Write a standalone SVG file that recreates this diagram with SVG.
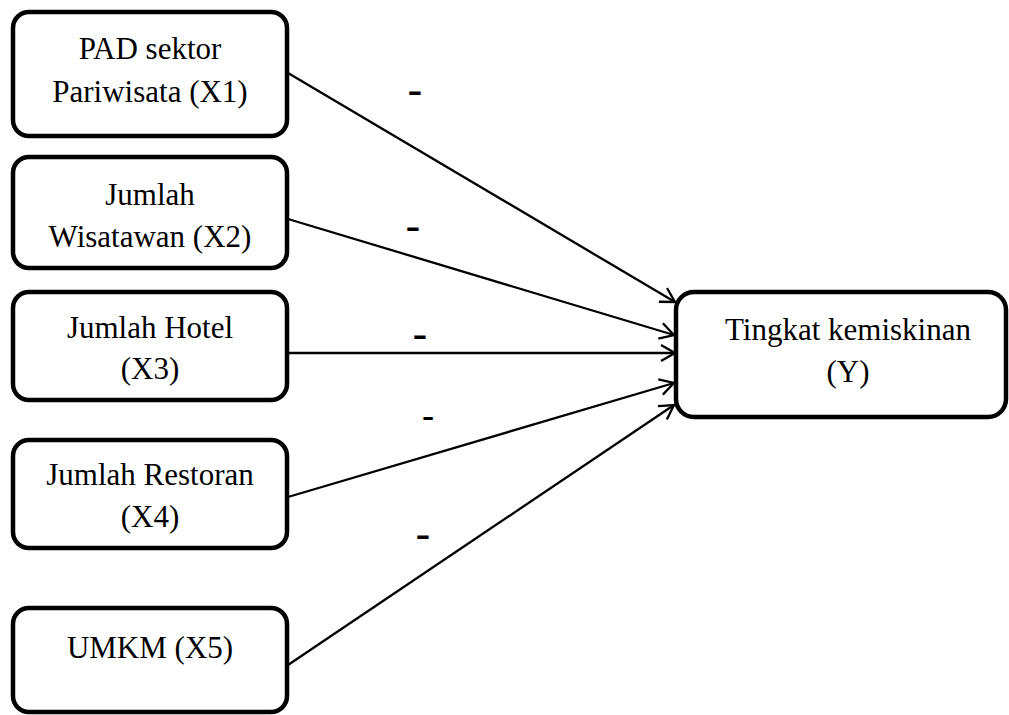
<svg xmlns="http://www.w3.org/2000/svg" width="1009" height="715" viewBox="0 0 1009 715">
<style>
.box{fill:#fff;stroke:#000;stroke-width:4.5}
.t{font-family:"Liberation Serif","Times New Roman",serif;font-size:31px;fill:#000;text-anchor:middle}
.c{stroke:#000;stroke-width:2.3;fill:none}
.d{font-family:"Liberation Sans",Arial,sans-serif;font-size:46px;fill:#000;text-anchor:middle}
</style>
<defs>
<marker id="ah" markerUnits="userSpaceOnUse" markerWidth="20" markerHeight="20" refX="16" refY="9" orient="auto" viewBox="0 0 20 18">
<path d="M2,1 L16,9 L2,17" fill="none" stroke="#000" stroke-width="2.3"/>
</marker>
</defs>
<g id="connectors">
<line class="c" x1="288" y1="73" x2="675" y2="302" marker-end="url(#ah)"/>
<line class="c" x1="288" y1="219" x2="674" y2="335" marker-end="url(#ah)"/>
<line class="c" x1="288" y1="353" x2="675" y2="353" marker-end="url(#ah)"/>
<line class="c" x1="288" y1="497" x2="674" y2="383" marker-end="url(#ah)"/>
<line class="c" x1="288" y1="665" x2="674" y2="405" marker-end="url(#ah)"/>
<text class="d" x="415" y="106">-</text>
<text class="d" x="413" y="242">-</text>
<text class="d" x="420" y="350">-</text>
<text class="d" x="428" y="429" style="font-size:38px">-</text>
<text class="d" x="423" y="550">-</text>
</g>
<g id="x1">
<rect class="box" x="13" y="12" width="274" height="124" rx="16"/>
<text class="t" x="150" y="59">PAD sektor</text>
<text class="t" x="150" y="102">Pariwisata (X1)</text>
</g>
<g id="x2">
<rect class="box" x="13" y="157" width="274" height="111" rx="16"/>
<text class="t" x="150" y="205">Jumlah</text>
<text class="t" x="150" y="247">Wisatawan (X2)</text>
</g>
<g id="x3">
<rect class="box" x="13" y="292" width="274" height="108" rx="16"/>
<text class="t" x="150" y="338">Jumlah Hotel</text>
<text class="t" x="150" y="379">(X3)</text>
</g>
<g id="x4">
<rect class="box" x="13" y="440" width="274" height="108" rx="16"/>
<text class="t" x="150" y="485">Jumlah Restoran</text>
<text class="t" x="150" y="527">(X4)</text>
</g>
<g id="x5">
<rect class="box" x="13" y="608" width="274" height="104" rx="16"/>
<text class="t" x="150" y="658">UMKM (X5)</text>
</g>
<g id="y">
<rect class="box" x="676" y="292" width="330" height="125" rx="18"/>
<text class="t" x="848" y="340">Tingkat kemiskinan</text>
<text class="t" x="848" y="382">(Y)</text>
</g>
</svg>
